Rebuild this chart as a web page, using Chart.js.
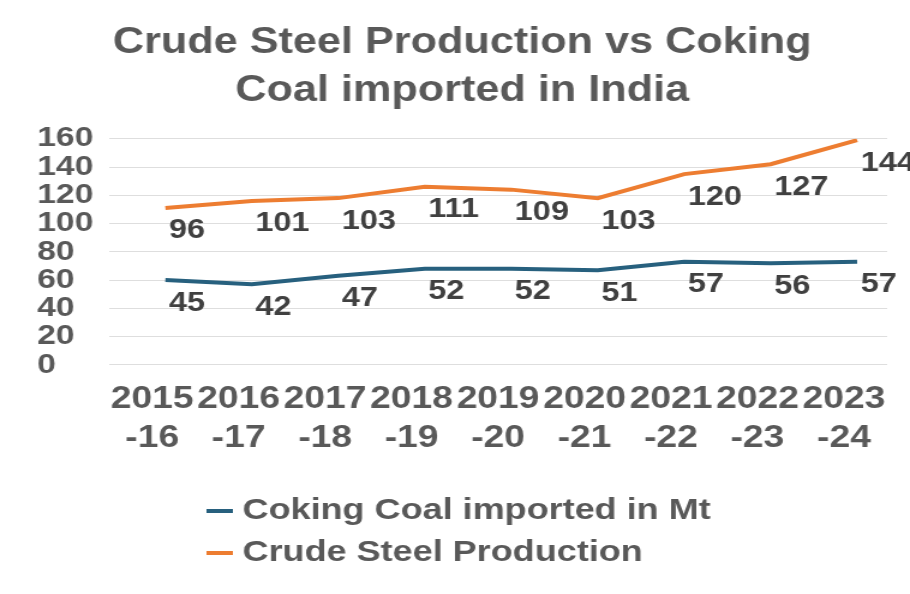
<!DOCTYPE html>
<html>
<head>
<meta charset="utf-8">
<script src="https://cdn.jsdelivr.net/npm/chart.js@4.4.0/dist/chart.umd.min.js"></script>
<style>
  html, body { margin: 0; padding: 0; background: #fff; overflow: hidden; }
  /* the reference is stretched sideways, so the canvas is too */
  #wrap { width: 758px; height: 594px; transform: scaleX(1.2005); transform-origin: 0 0; }
</style>
</head>
<body>
<div id="wrap"><canvas id="chart" width="758" height="594"></canvas></div>
<script>
// data
const years = [['2015', '-16'], ['2016', '-17'], ['2017', '-18'], ['2018', '-19'], ['2019', '-20'],
               ['2020', '-21'], ['2021', '-22'], ['2022', '-23'], ['2023', '-24']];
const coalLine  = [60, 57, 63, 68, 68, 67, 73, 72, 73];
const steelLine = [111, 116, 118, 126, 124, 118, 135, 142, 159];
const coalLabels  = [45, 42, 47, 52, 52, 51, 57, 56, 57];
const steelLabels = [96, 101, 103, 111, 109, 103, 120, 127, 144];
const yTicks = [0, 20, 40, 60, 80, 100, 120, 140, 160];
const titleLines = ['Crude Steel Production vs Coking', 'Coal imported in India'];

const FONT = '"Liberation Sans", Arial, sans-serif';
const GREY = '#595959';
const shiftX = 11;

const shiftPlugin = {
  id: 'shift',
  beforeDatasetsDraw(chart) {
    chart.ctx.save();
    chart.ctx.translate(shiftX, 0);
  },
  afterDatasetsDraw(chart) {
    chart.ctx.restore();
    const ctx = chart.ctx;
    ctx.save();
    ctx.font = 'bold 27px ' + FONT;
    ctx.fillStyle = '#404040';
    ctx.textAlign = 'left';
    ctx.textBaseline = 'middle';
    chart.data.datasets.forEach((ds, i) => {
      chart.getDatasetMeta(i).data.forEach((pt, j) => {
        ctx.fillText(String(ds.valueLabels[j]), pt.x + shiftX + 3, pt.y + 23);
      });
    });
    ctx.restore();
  }
};

const legendPlugin = {
  id: 'stackLegend',
  afterDraw(chart) {
    const ctx = chart.ctx;
    const y0 = chart.scales.x.bottom + 38;
    ctx.save();
    ctx.font = 'bold 30px ' + FONT;
    ctx.textAlign = 'left';
    ctx.textBaseline = 'middle';
    chart.data.datasets.forEach((ds, i) => {
      const y = y0 + i * 42;
      ctx.strokeStyle = ds.borderColor;
      ctx.lineWidth = 4;
      ctx.beginPath();
      ctx.moveTo(172, y);
      ctx.lineTo(194, y);
      ctx.stroke();
      ctx.fillStyle = GREY;
      ctx.fillText(ds.label, 202, y);
    });
    ctx.restore();
  }
};

new Chart(document.getElementById('chart'), {
  type: 'line',
  data: {
    labels: years,
    datasets: [
      {
        label: 'Coking Coal imported in Mt',
        data: coalLine,
        valueLabels: coalLabels,
        borderColor: '#27607e',
        borderWidth: 4,
        pointRadius: 0,
        tension: 0
      },
      {
        label: 'Crude Steel Production',
        data: steelLine,
        valueLabels: steelLabels,
        borderColor: '#ed7d31',
        borderWidth: 4,
        pointRadius: 0,
        tension: 0
      }
    ]
  },
  options: {
    responsive: false,
    animation: false,
    layout: { padding: { left: 31, right: 19, top: 0, bottom: 121 } },
    plugins: {
      legend: { display: false },
      tooltip: { enabled: false },
      title: {
        display: true,
        text: titleLines,
        color: GREY,
        font: { family: FONT, size: 36, weight: 'bold', lineHeight: 1.33 },
        padding: { top: 19, bottom: 24 }
      }
    },
    scales: {
      x: {
        offset: true,
        grid: { display: false, drawTicks: false },
        border: { display: false },
        afterFit(scale) { scale.paddingLeft = 0; scale.paddingRight = 0; },
        ticks: {
          color: GREY,
          font: { family: FONT, size: 31, weight: 'bold', lineHeight: 1.26 },
          padding: 15,
          maxRotation: 0,
          minRotation: 0,
          autoSkip: false
        }
      },
      y: {
        min: yTicks[0],
        max: yTicks[yTicks.length - 1],
        afterBuildTicks(scale) { scale.ticks = yTicks.map(v => ({ value: v })); },
        grid: { color: '#dedede', lineWidth: 1, drawTicks: false },
        border: { display: false },
        ticks: {
          color: GREY,
          font: { family: FONT, size: 28, weight: 'bold', lineHeight: 1.0 },
          crossAlign: 'far',
          padding: 6.5,
          autoSkip: false
        }
      }
    }
  },
  plugins: [shiftPlugin, legendPlugin]
});
</script>
</body>
</html>
